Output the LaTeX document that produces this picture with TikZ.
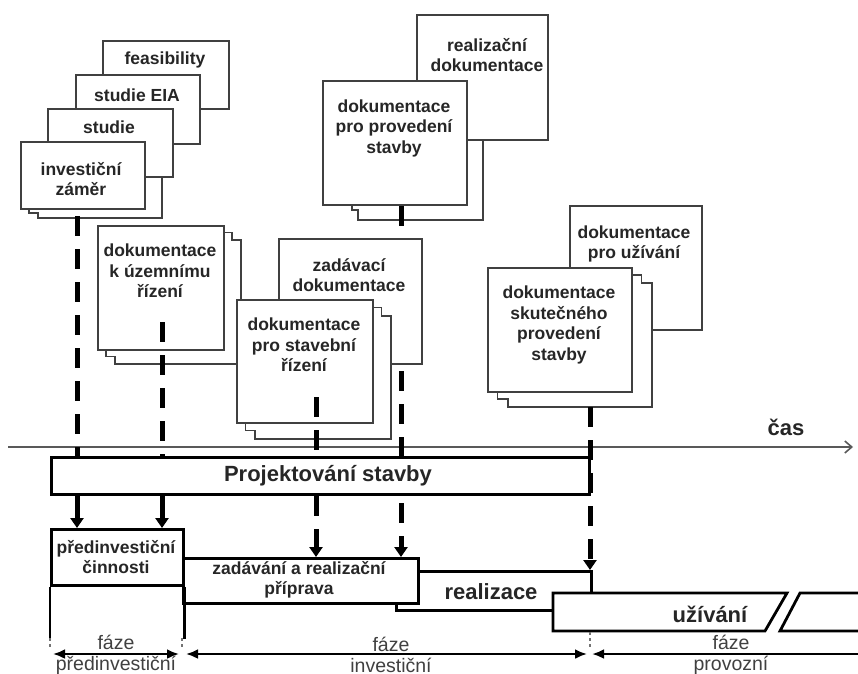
\documentclass[tikz,border=0pt]{standalone}
\usepackage{fontspec}
\setmainfont{Liberation Sans}
\usepackage{tikz}
\usetikzlibrary{arrows.meta,backgrounds}

\tikzset{
  docbox/.style={draw=black!75, line width=1.5pt, fill=white, inner sep=0pt, anchor=north west},
  docpage/.style={draw=black!75, line width=1.5pt, fill=white},
  doctext/.style={font=\fontsize{17.5}{20.5}\selectfont\bfseries, text=black!85, align=center, inner sep=0pt},
  bigtext/.style={font=\fontsize{22}{26}\selectfont\bfseries, text=black!85, inner sep=0pt},
  phasetext/.style={font=\fontsize{19.5}{21}\selectfont, text=black!75, align=center, inner sep=0pt},
  stagebox/.style={draw=black, line width=2.8pt, fill=white, inner sep=0pt, anchor=north west},
  stageline/.style={draw=black, line width=2.8pt, fill=white},
  dashflow/.style={line width=5pt, dash pattern=on 20pt off 13pt},
  flowhead/.style={-{Triangle[length=10pt,width=13pt]}},
  flowarrow/.style={line width=5pt, flowhead},
  phasearrow/.style={line width=2.5pt, {Latex[length=12pt,width=10pt]}-{Latex[length=12pt,width=10pt]}},
  phasemark/.style={line width=1.2pt, black!55, dash pattern=on 3pt off 3pt},
}

% pages behind a document box: x1, y1, x2, y2, dx, dy
\newcommand{\docpages}[6]{%
  \draw[docpage] (#3,#2+#6) -- ++(#5,0) -- ++(0,#6) -- ++(#5,0)
    -- (#3+2*#5,#4+2*#6) -- (#1+2*#5,#4+2*#6) -- ++(0,-#6) -- ++(-#5,0) -- (#1+#5,#4);}

\begin{document}
\begin{tikzpicture}[x=1pt, y=-1pt]
\useasboundingbox (0,0) rectangle (858,673);

% time axis
\draw[line width=1.6pt, black!65, -{Straight Barb[length=7pt,width=12pt]}] (8,447) -- (853,447);
\node[bigtext] (cas) at (786,427) {čas};

% stages
\node[stagebox, minimum width=195, minimum height=39] (real) at (395,570) {};
\node[bigtext] (realtxt) at (491,592) {realizace};
\node[stagebox, minimum width=235, minimum height=45] (zad) at (182,557) {};
\node[doctext] (zadtxt) at (299,580) {zadávání a realizační\\příprava};
\node[stagebox, minimum width=132, minimum height=56] (pred) at (50,528) {};
\node[doctext] (predtxt) at (116,557) {předinvestiční\\činnosti};
\draw[stageline] (553,593) -- (787,593) -- (765,631) -- (553,631) -- cycle;
\draw[stageline] (800,593) -- (870,593) -- (870,631) -- (780,631) -- cycle;
\node[bigtext] (uzivtxt) at (710,614) {užívání};

% preparation documents
\node[docbox, minimum width=126, minimum height=68] (feas) at (102,40) {};
\node[doctext] (feastxt) at (165,60) {feasibility};
\node[docbox, minimum width=124, minimum height=69] (eia) at (75,74) {};
\node[doctext] (eiatxt) at (137,95) {studie EIA};
\node[docbox, minimum width=125, minimum height=68] (stud) at (47,108) {};
\node[doctext] (studtxt) at (109,127) {studie};
\node[docbox, minimum width=124, minimum height=67] (inv) at (20,141) {};
\node[doctext] (invtxt) at (81,179) {investiční\\záměr};
\begin{scope}[on background layer]
  \docpages{20}{141}{144}{208}{9}{5}
\end{scope}

% design documents
\node[docbox, minimum width=131, minimum height=125] (realdok) at (416,14) {};
\node[doctext] (realdoktxt) at (487,55) {realizační\\dokumentace};
\node[docbox, minimum width=144, minimum height=124] (prov) at (322,80) {};
\node[doctext] (provtxt) at (394,128) {dokumentace\\pro provedení\\stavby};
\begin{scope}[on background layer]
  \draw[docpage] (352,204) |- (358,210) |- (483,220) -- (483,100);
\end{scope}
\draw[dashflow, flowhead] (401,206) -- (401,206 |- zad.north);

\docpages{97}{225}{223}{349}{9}{7.5}
\node[docbox, minimum width=126, minimum height=124] (uzem) at (97,225) {};
\node[doctext] (uzemtxt) at (160,271) {dokumentace\\k územnímu\\řízení};
\node[docbox, minimum width=143, minimum height=125] (zaddok) at (278,238) {};
\node[doctext] (zaddoktxt) at (349,275) {zadávací\\dokumentace};
\docpages{236}{299}{372}{422}{9.5}{8.5}
\node[docbox, minimum width=136, minimum height=123] (stav) at (236,299) {};
\node[doctext] (stavtxt) at (304,345) {dokumentace\\pro stavební\\řízení};
\draw[dashflow, flowhead] (316,397) -- (316,397 |- zad.north);

% operation documents
\node[docbox, minimum width=132, minimum height=124] (uziv) at (569,205) {};
\node[doctext] (uzivdoktxt) at (634,244) {dokumentace\\pro užívání};
\docpages{487}{267}{631}{391}{10.5}{8}
\node[docbox, minimum width=144, minimum height=124] (skut) at (487,267) {};
\node[doctext] (skuttxt) at (559,325) {dokumentace\\skutečného\\provedení\\stavby};

% design bar
\node[stagebox, minimum width=538, minimum height=37] (proj) at (50,456) {};
\node[bigtext] (projtxt) at (328,476) {Projektování stavby};

\draw[dashflow] (77,216) -- (77,216 |- proj.north);
\draw[dashflow] (162,322) -- (162,322 |- proj.north);
\draw[flowarrow] (77,0 |- proj.south) -- (77,0 |- pred.north);
\draw[flowarrow] (162,0 |- proj.south) -- (162,0 |- pred.north);
\draw[dashflow, flowhead] (590,407) -- (590,407 |- real.north);

% phases
\draw[line width=2.8pt] (pred.south west) -- ++(0,52);
\draw[line width=2.8pt] (pred.south east) -- ++(0,52);
\draw[phasemark] (50,638) -- (50,648);
\draw[phasemark] (182,638) -- (182,648);
\draw[phasemark] (590,632) -- (590,648);
\draw[phasearrow] (53,654) -- (179,654);
\draw[phasearrow] (186,654) -- (587,654);
\draw[line width=2.5pt, {Latex[length=12pt,width=10pt]}-] (592,654) -- (870,654);
\node[phasetext] (fpred) at (116,655) {fáze\\předinvestiční};
\node[phasetext] (finv) at (391,655) {fáze\\investiční};
\node[phasetext] (fprov) at (731,655) {fáze\\provozní};
\end{tikzpicture}
\end{document}
